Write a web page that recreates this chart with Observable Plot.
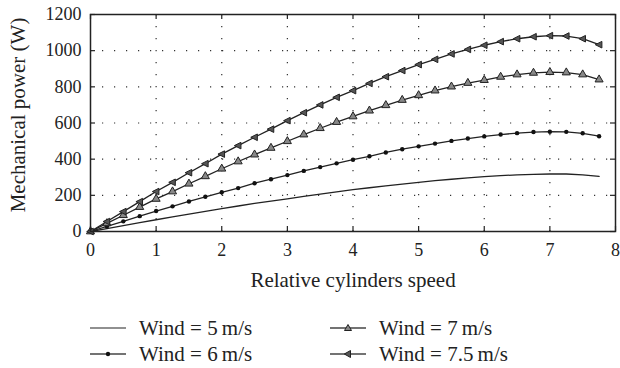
<!DOCTYPE html>
<html>
<head>
<meta charset="utf-8">
<style>
  html, body { margin: 0; padding: 0; background: white; font-family: serif; }
  #chart { width: 620px; }
  #legend { position: relative; width: 620px; height: 68px; font-family: serif; font-size: 21px; color: #222; }
  .item { position: absolute; display: flex; align-items: center; white-space: nowrap; }
  .item svg { margin-right: 13px; }
</style>
<script src="https://cdn.jsdelivr.net/npm/d3@7"></script>
<script src="https://cdn.jsdelivr.net/npm/@observablehq/plot@0.6"></script>
</head>
<body>
<div id="chart"></div>
<div id="legend"></div>
<script>
const speed = [0, 0.25, 0.5, 0.75, 1, 1.25, 1.5, 1.75, 2, 2.25, 2.5, 2.75, 3, 3.25, 3.5, 3.75,
               4, 4.25, 4.5, 4.75, 5, 5.25, 5.5, 5.75, 6, 6.25, 6.5, 6.75, 7, 7.25, 7.5, 7.75];
const wind5  = [0, 16, 33, 49, 65, 81, 96, 111, 127, 141, 155, 168, 181, 194, 207, 219,
                231, 242, 252, 262, 272, 281, 289, 296, 303, 309, 313, 316, 318, 318, 313, 305];
const wind6  = [0, 28, 56, 85, 113, 139, 166, 192, 217, 240, 267, 289, 312, 335, 356, 377,
                397, 416, 437, 455, 471, 486, 501, 514, 526, 536, 544, 550, 552, 551, 543, 527];
const wind7  = [0, 45, 90, 135, 180, 221, 264, 305, 347, 387, 425, 462, 499, 536, 571, 605,
                636, 668, 698, 727, 753, 779, 801, 821, 837, 855, 868, 877, 881, 879, 868, 840];
const wind75 = [0, 55, 110, 165, 221, 272, 325, 375, 428, 475, 521, 566, 613, 657, 700, 742,
                779, 819, 856, 890, 923, 952, 982, 1007, 1030, 1050, 1066, 1077, 1083, 1081, 1066, 1033];
const seriesNames = ["Wind = 5\u2009m/s", "Wind = 6\u2009m/s", "Wind = 7\u2009m/s", "Wind = 7.5\u2009m/s"];
const xTicks = [0, 1, 2, 3, 4, 5, 6, 7, 8];
const yTicks = [0, 200, 400, 600, 800, 1000, 1200];
const xLabel = "Relative cylinders speed";
const yLabel = "Mechanical power (W)";

const seriesValues = [wind5, wind6, wind7, wind75];
const rows = seriesNames.flatMap((name, k) => speed.map((x, i) => ({x, y: seriesValues[k][i], name})));

const leftTriangle = {
  draw(ctx, size) {
    const r = Math.sqrt(size / Math.PI);
    ctx.moveTo(-r * 1.15, 0);
    ctx.lineTo(r * 0.85, -r);
    ctx.lineTo(r * 0.85, r);
    ctx.closePath();
  }
};

const serif = "serif";
const ink = "#222";
const dotted = {stroke: "#333", strokeOpacity: 1, strokeWidth: 1.2, strokeDasharray: "1.2,10.8"};
const tick = {stroke: ink, strokeOpacity: 1, strokeWidth: 1.2};

function render() {
  const chart = Plot.plot({
    width: 620,
    height: 300,
    marginLeft: 90,
    marginRight: 5,
    marginTop: 14,
    marginBottom: 69,
    x: {domain: [0, 8]},
    y: {domain: [0, 1200]},
    style: {fontFamily: serif, fontSize: "18px", color: ink, background: "white", overflow: "visible"},
    marks: [
      Plot.gridX(xTicks.slice(1, -1), dotted),
      Plot.gridY(yTicks.slice(1, -1), dotted),
      Plot.gridX(xTicks, {...tick, insetTop: 212}),
      Plot.gridX(xTicks, {...tick, insetBottom: 212}),
      Plot.gridY(yTicks, {...tick, insetRight: 520}),
      Plot.gridY(yTicks, {...tick, insetLeft: 520}),
      Plot.axisX(xTicks, {tickSize: 0, tickPadding: 12, label: null, tickFormat: d => String(d)}),
      Plot.axisY(yTicks, {tickSize: 0, tickPadding: 9, label: null, tickFormat: d => String(d)}),
      Plot.text([xLabel], {frameAnchor: "bottom", lineAnchor: "middle", textAnchor: "middle", dy: 49, fontSize: 21, fill: ink}),
      Plot.text([yLabel], {frameAnchor: "left", lineAnchor: "middle", textAnchor: "middle", rotate: -90, dx: -72, dy: -8, fontSize: 21, fill: ink}),
      Plot.line(rows, {x: "x", y: "y", z: "name", stroke: ink, strokeWidth: 1.3}),
      Plot.dot(rows.filter(d => d.name === seriesNames[1]), {x: "x", y: "y", r: 2.2, fill: "#111"}),
      Plot.dot(rows.filter(d => d.name === seriesNames[2]), {x: "x", y: "y", r: 3, symbol: "triangle", fill: "#888", stroke: ink, strokeWidth: 1}),
      Plot.dot(rows.filter(d => d.name === seriesNames[3]), {x: "x", y: "y", r: 3.3, symbol: leftTriangle, fill: "#555", stroke: ink, strokeWidth: 1}),
      Plot.frame({stroke: ink, strokeWidth: 1.5})
    ]
  });
  document.getElementById("chart").replaceChildren(chart);

  const legend = document.getElementById("legend");
  legend.replaceChildren();
  const pos = [
    {left: 90, top: 28},
    {left: 90, top: 54},
    {left: 330, top: 28},
    {left: 330, top: 54}
  ];
  const markerSvg = [
    "",
    '<circle cx="18" cy="7" r="2.2" fill="#111"/>',
    '<path d="M18,3.5 L21.5,9.5 L14.5,9.5 Z" fill="#888" stroke="#222" stroke-width="1"/>',
    '<path d="M14.3,7 L20.5,3.5 L20.5,10.5 Z" fill="#555" stroke="#222" stroke-width="1"/>'
  ];
  seriesNames.forEach((name, k) => {
    const el = document.createElement("div");
    el.className = "item";
    el.style.left = pos[k].left + "px";
    el.style.top = (pos[k].top - 14) + "px";
    el.style.height = "28px";
    el.innerHTML = `<svg width="36" height="14"><line x1="0" x2="36" y1="7" y2="7" stroke="${k === 0 ? '#222' : '#444'}" stroke-width="${k === 0 ? 1.1 : 1.6}"/>${markerSvg[k]}</svg><span>${name}</span>`;
    legend.appendChild(el);
  });
}
render();
setTimeout(render, 200);
</script>
</body>
</html>
